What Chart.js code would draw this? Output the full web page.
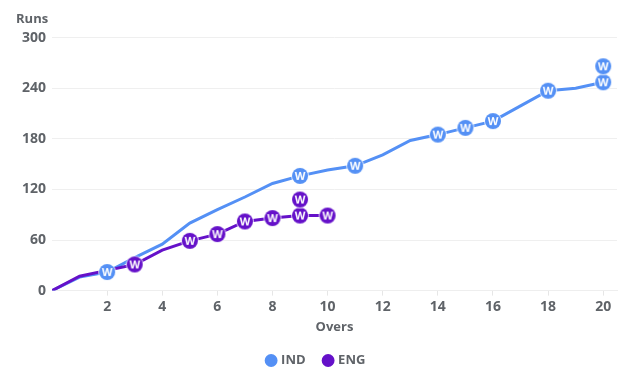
<!DOCTYPE html>
<html>
<head>
<meta charset="utf-8">
<script src="https://cdn.jsdelivr.net/npm/chart.js@4.4.1/dist/chart.umd.min.js"></script>
<style>
  html, body { margin: 0; padding: 0; background: #fff; }
  #wrap { width: 640px; height: 385px; }
</style>
</head>
<body>
<div id="wrap"><canvas id="chart"></canvas></div>
<script>
// runs per over
const overs = [0, 1, 2, 3, 4, 5, 6, 7, 8, 9, 10, 11, 12, 13, 14, 15, 16, 17, 18, 19, 20];
const indRuns = [0, 16, 22, 39, 55, 80, 96, 111, 127, 136, 143, 148, 161, 178, 185, 193, 201, 219, 237, 240, 247];
const engRuns = [0, 17, 24, 31, 48, 59, 67, 82, 86, 89, 89];

// wickets (second wicket in the same over is drawn above)
const indWicketOvers = [2, 9, 11, 14, 15, 16, 18, 20, 20];
const indWicketRuns = [22, 136, 148, 185, 193, 201, 237, 247, 266];
const engWicketOvers = [3, 5, 6, 7, 8, 9, 9, 10];
const engWicketRuns = [31, 59, 67, 82, 86, 89, 108, 89];

const xTicks = [2, 4, 6, 8, 10, 12, 14, 16, 18, 20];

const indColor = '#5490f5';
const engColor = '#6511c9';
const textColor = '#5f6368';
const fontFamily = '"Open Sans", "Noto Sans", sans-serif';

// little "W" badge used as point style for wickets
function makeBadge(color) {
    const c = document.createElement('canvas');
    c.width = 20;
    c.height = 20;
    const g = c.getContext('2d');
    g.beginPath();
    g.arc(10, 10, 9, 0, Math.PI * 2);
    g.fillStyle = 'rgba(255,255,255,0.75)';
    g.fill();
    g.beginPath();
    g.arc(10, 10, 8, 0, Math.PI * 2);
    g.fillStyle = color;
    g.fill();
    g.fillStyle = '#fff';
    g.font = 'bold 11px ' + fontFamily;
    g.textAlign = 'center';
    g.textBaseline = 'middle';
    g.fillText('W', 10, 10.5);
    return c;
}

const pairs = (xs, ys) => xs.map((x, i) => ({ x: x, y: ys[i] }));

document.addEventListener('DOMContentLoaded', function() {
    const ctx = document.getElementById('chart').getContext('2d');
    new Chart(ctx, {
        type: 'line',
        data: {
            datasets: [
                {
                    label: 'ENG wickets',
                    type: 'scatter',
                    data: pairs(engWicketOvers, engWicketRuns),
                    pointStyle: makeBadge(engColor),
                    backgroundColor: engColor,
                    borderColor: engColor,
                    order: 0
                },
                {
                    label: 'IND wickets',
                    type: 'scatter',
                    data: pairs(indWicketOvers, indWicketRuns),
                    pointStyle: makeBadge(indColor),
                    backgroundColor: indColor,
                    borderColor: indColor,
                    order: 1
                },
                {
                    label: 'ENG',
                    data: pairs(overs.slice(0, engRuns.length), engRuns),
                    borderColor: engColor,
                    backgroundColor: engColor,
                    borderWidth: 3,
                    pointRadius: 0,
                    tension: 0,
                    order: 2
                },
                {
                    label: 'IND',
                    data: pairs(overs, indRuns),
                    borderColor: indColor,
                    backgroundColor: indColor,
                    borderWidth: 3,
                    pointRadius: 0,
                    tension: 0,
                    order: 3
                }
            ]
        },
        options: {
            responsive: true,
            maintainAspectRatio: false,
            animation: false,
            layout: { padding: { left: 16, right: 23, top: 11, bottom: 8 } },
            plugins: {
                title: {
                    display: true,
                    text: 'Runs',
                    align: 'start',
                    color: textColor,
                    font: { family: fontFamily, size: 13, weight: 'bold' },
                    padding: { top: 0, bottom: 11 }
                },
                legend: {
                    position: 'bottom',
                    reverse: true,
                    labels: {
                        filter: item => !item.text.includes('wickets'),
                        usePointStyle: true,
                        pointStyle: 'circle',
                        boxWidth: 7,
                        boxHeight: 7,
                        padding: 19,
                        color: textColor,
                        font: { family: fontFamily, size: 13, weight: 'bold' }
                    }
                },
                tooltip: { enabled: false }
            },
            scales: {
                x: {
                    type: 'linear',
                    min: 0,
                    max: 20.5,
                    afterBuildTicks: axis => {
                        axis.ticks = xTicks.map(v => ({ value: v }));
                    },
                    ticks: {
                        color: textColor,
                        font: { family: fontFamily, size: 14, weight: 'bold' },
                        maxRotation: 0,
                        padding: 3
                    },
                    grid: {
                        drawOnChartArea: false,
                        drawTicks: true,
                        tickLength: 5,
                        color: '#e6e6e6'
                    },
                    border: { display: true, color: '#eeeeee' },
                    title: {
                        display: true,
                        text: 'Overs',
                        color: textColor,
                        font: { family: fontFamily, size: 13, weight: 'bold' },
                        padding: { top: 1, bottom: 0 }
                    }
                },
                y: {
                    min: 0,
                    max: 300,
                    ticks: {
                        stepSize: 60,
                        color: textColor,
                        font: { family: fontFamily, size: 14, weight: 'bold' },
                        padding: 6
                    },
                    grid: {
                        color: '#efefef',
                        drawTicks: false
                    },
                    border: { display: false }
                }
            }
        }
    });
});
</script>
</body>
</html>
